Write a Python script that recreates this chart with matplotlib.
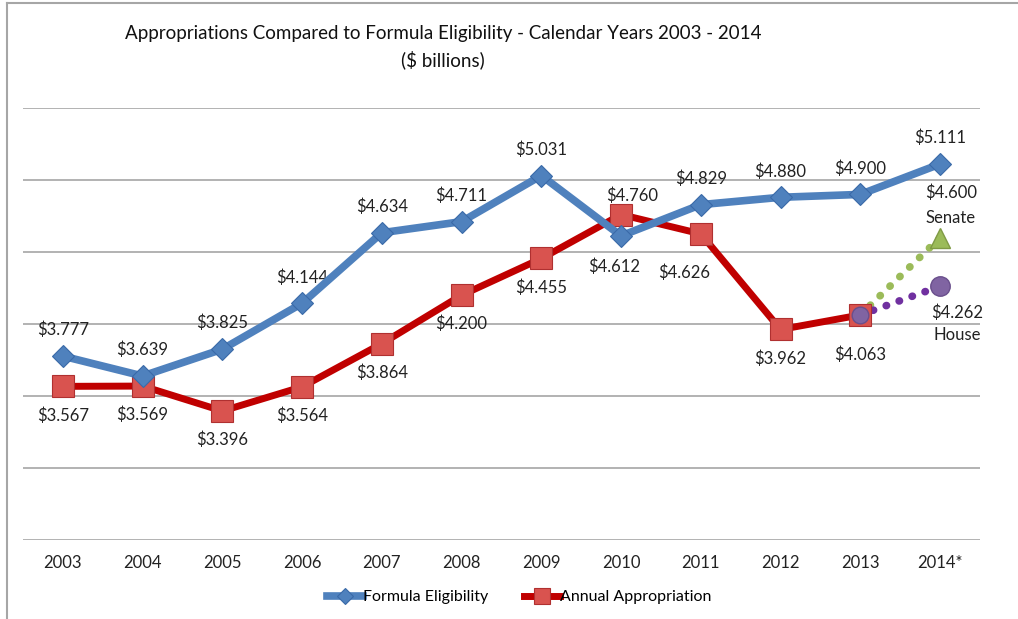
import matplotlib.pyplot as plt
from matplotlib.lines import Line2D

years = ['2003', '2004', '2005', '2006', '2007', '2008', '2009', '2010',
         '2011', '2012', '2013', '2014*']
formula = [3.777, 3.639, 3.825, 4.144, 4.634, 4.711, 5.031, 4.612, 4.829, 4.880, 4.900, 5.111]
approp = [3.567, 3.569, 3.396, 3.564, 3.864, 4.200, 4.455, 4.760, 4.626, 3.962, 4.063]
senate = [4.063, 4.600]
house = [4.063, 4.262]

plt.rcParams['font.family'] = ['Lato', 'DejaVu Sans']

fig = plt.figure(figsize=(10.18, 6.19), dpi=100)
ax = fig.add_axes([0.0226, 0.1276, 0.94, 0.6979])

x = list(range(len(years)))
grey = '#a6a6a6'

ax.plot(x[10:12], senate, color='#9bbb59', lw=5.5, ls=(0, (0.05, 1.75)),
        dash_capstyle='round', zorder=2)
ax.plot(x[10:12], house, color='#7030a0', lw=5.5, ls=(0, (0.05, 1.75)),
        dash_capstyle='round', zorder=2)

ax.plot(x, formula, color='#4f81bd', lw=5.5, marker='D', ms=11,
        mfc='#4f81bd', mec='#3a6aa8', mew=0.8, zorder=4, label='Formula Eligibility')
ax.plot(x[:11], approp, color='#c00000', lw=5, marker='s', ms=16,
        mfc='#d9534f', mec='#b03030', mew=0.8, zorder=3, label='Annual Appropriation')

ax.plot(x[11], senate[1], marker='^', ms=15, color='#9bbb59', mec='#7f9a44', zorder=5)
ax.plot(x[11], house[1], marker='o', ms=14, color='#8064a2', mec='#6a4f8c', zorder=5)
ax.plot(x[10], approp[10], marker='o', ms=12, color='#8064a2', mec='#6a4f8c', zorder=5)

fs = 12
# formula labels (pixel offsets)
f_off = [(0, 26)] * 12
f_off[7] = (-7, -31)
for i, v in enumerate(formula):
    dx, dy = f_off[i]
    ax.annotate('$%.3f' % v, (x[i], v), xytext=(dx / 1.389, dy / 1.389),
                textcoords='offset points', ha='center', va='center', fontsize=fs, color='#222222')

a_off = [(0, -29)] * 11
a_off[7] = (11, 19)
a_off[8] = (-17, -39)
a_off[10] = (0, -40)
for i, v in enumerate(approp):
    dx, dy = a_off[i]
    ax.annotate('$%.3f' % v, (x[i], v), xytext=(dx / 1.389, dy / 1.389),
                textcoords='offset points', ha='center', va='center', fontsize=fs, color='#222222')

ax.annotate('$%.3f' % senate[1], (x[11], senate[1]), xytext=(11 / 1.389, 45 / 1.389),
            textcoords='offset points', ha='center', va='center', fontsize=fs, color='#222222')
ax.annotate('Senate', (x[11], senate[1]), xytext=(11 / 1.389, 20 / 1.389),
            textcoords='offset points', ha='center', va='center', fontsize=fs, color='#222222')
ax.annotate('$%.3f' % house[1], (x[11], house[1]), xytext=(17 / 1.389, -26 / 1.389),
            textcoords='offset points', ha='center', va='center', fontsize=fs, color='#222222')
ax.annotate('House', (x[11], house[1]), xytext=(17 / 1.389, -49 / 1.389),
            textcoords='offset points', ha='center', va='center', fontsize=fs, color='#222222')

ax.set_xlim(-0.5, 11.5)
ax.set_ylim(2.5, 5.5)
ax.set_yticks([2.5, 3.0, 3.5, 4.0, 4.5, 5.0, 5.5])
ax.set_yticklabels([])
ax.set_xticks(x)
ax.set_xticklabels(years, fontsize=12, color='#222222')
ax.tick_params(length=0, pad=11)
ax.tick_params(axis='y', length=0)
ax.grid(axis='y', color=grey, lw=1.2)
for s in ax.spines.values():
    s.set_visible(False)
ax.set_axisbelow(True)

fig.text(0.435, 0.946, 'Appropriations Compared to Formula Eligibility - Calendar Years 2003 - 2014',
         ha='center', va='center', fontsize=13.5, color='#111111')
fig.text(0.435, 0.904, '($ billions)', ha='center', va='center', fontsize=13.5, color='#111111')

leg = fig.legend(handles=ax.get_lines()[2:4], loc='center', bbox_to_anchor=(0.51, 0.035),
                 ncol=2, frameon=False, fontsize=11.5, handlelength=2.3, handletextpad=0.0,
                 columnspacing=2.2, markerscale=0.7)

fig.add_artist(Line2D([0.007, 1.0], [0.995, 0.995], color=grey, lw=1.5))
fig.add_artist(Line2D([0.007, 0.007], [0.0, 0.995], color=grey, lw=1.5))

fig.savefig('out.png', dpi=100)
